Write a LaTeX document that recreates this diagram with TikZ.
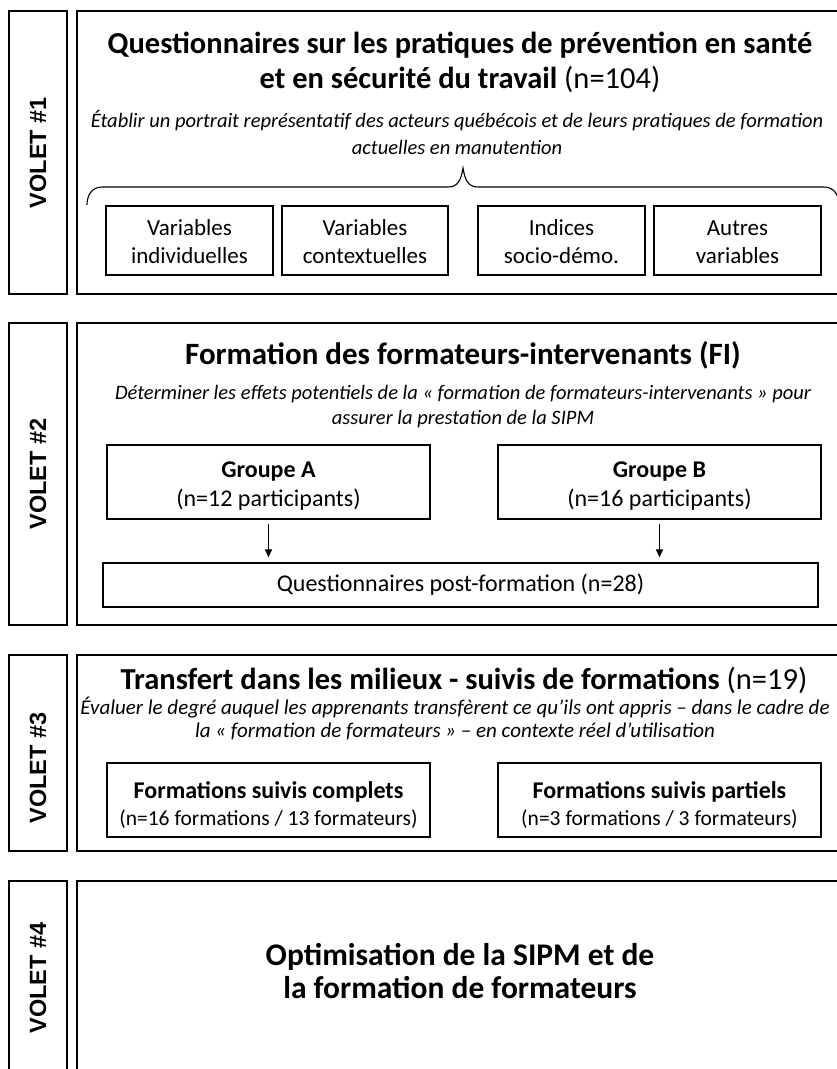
\documentclass[tikz,border=0pt]{standalone}
\usepackage{fontspec}
\setmainfont{Carlito}
\newfontfamily\voletfont{Liberation Sans}
\usetikzlibrary{arrows.meta}
\begin{document}
\begin{tikzpicture}[x=1pt,y=-1pt,
  frame/.style={draw, line width=1.3pt, inner sep=0pt},
  boxn/.style={draw, line width=1.2pt, inner sep=0pt, align=center},
  lab/.style={rotate=90, font=\voletfont\bfseries\fontsize{23.5}{26}\selectfont},
  ttl/.style={align=center, font=\bfseries\fontsize{30.5}{35}\selectfont},
  sub/.style={align=center, font=\itshape\fontsize{20.5}{27}\selectfont},
  vtxt/.style={font=\fontsize{23}{28}\selectfont},
  arr/.style={-{Triangle[length=8pt,width=7pt]}, line width=1.2pt, shorten <=4pt, shorten >=5pt}
]
\useasboundingbox (0,0) rectangle (837,1069);
\clip (0,0) rectangle (837,1069);

% ---------- VOLET 1 ----------
\node[frame, minimum width=58pt, minimum height=283pt] (lab1) at (38,152.5) {};
\node[lab] (l1) at (lab1.center) {VOLET \#1};
\node[frame, minimum width=773pt, minimum height=283pt] (main1) at (463.5,152.5) {};
\node[ttl] (t1) at (460,62) {Questionnaires sur les pratiques de prévention en santé\\et en sécurité du travail \mdseries(n=104)};
\node[sub] (s1) at (457,133) {Établir un portrait représentatif des acteurs québécois et de leurs pratiques de formation\\actuelles en manutention};
\draw[line width=1.1pt] (87,205) .. controls (87,195) and (92,187) .. (102,187) -- (448,187)
  .. controls (458,187) and (461,180) .. (463,168)
  .. controls (465,180) and (468,187) .. (478,187) -- (824,187)
  .. controls (834,187) and (839,195) .. (839,205);
\node[boxn, vtxt, minimum width=167pt, minimum height=69pt] (v1) at (189.5,240.5) {\rule{0pt}{25.6pt}Variables\\individuelles\strut};
\node[boxn, vtxt, minimum width=166pt, minimum height=69pt] (v2) at (365,240.5) {\rule{0pt}{25.6pt}Variables\\contextuelles\strut};
\node[boxn, vtxt, minimum width=167pt, minimum height=69pt] (v3) at (561.5,240.5) {\rule{0pt}{25.6pt}Indices\\socio-démo.\strut};
\node[boxn, vtxt, minimum width=167pt, minimum height=69pt] (v4) at (737.5,240.5) {\rule{0pt}{25.6pt}Autres\\variables\strut};

% ---------- VOLET 2 ----------
\node[frame, minimum width=58pt, minimum height=302pt] (lab2) at (38,474) {};
\node[lab] (l2) at (lab2.center) {VOLET \#2};
\node[frame, minimum width=773pt, minimum height=302pt] (main2) at (463.5,474) {};
\node[ttl, font=\bfseries\fontsize{31}{35}\selectfont] (t2) at (463,355) {Formation des formateurs-intervenants (FI)};
\node[sub, font=\itshape\fontsize{20.5}{25}\selectfont] (s2) at (463,407) {Déterminer les effets potentiels de la « formation de formateurs-intervenants » pour\\assurer la prestation de la SIPM};
\node[boxn, font=\fontsize{24}{29}\selectfont, minimum width=323pt, minimum height=74pt] (gA) at (268.5,482) {\bfseries\rule{0pt}{28.3pt}Groupe A\\(n=12 participants)\strut};
\node[boxn, font=\fontsize{24}{29}\selectfont, minimum width=323pt, minimum height=74pt] (gB) at (659.5,482) {\bfseries\rule{0pt}{28.3pt}Groupe B\\(n=16 participants)\strut};
\node[boxn, font=\fontsize{24}{29}\selectfont, minimum width=715pt, minimum height=44pt] (post) at (460.5,585) {Questionnaires post-formation (n=28)};
\draw[arr] (gA.south) -- (gA.south |- post.north);
\draw[arr] (gB.south) -- (gB.south |- post.north);

% ---------- VOLET 3 ----------
\node[frame, minimum width=58pt, minimum height=196pt] (lab3) at (38,753) {};
\node[lab] (l3) at (38,768) {VOLET \#3};
\node[frame, minimum width=773pt, minimum height=196pt] (main3) at (463.5,753) {};
\node[ttl] (t3) at (464,680) {Transfert dans les milieux - suivis de formations \mdseries(n=19)};
\node[sub, font=\itshape\fontsize{21}{23}\selectfont] (s3) at (455,718.5) {Évaluer le degré auquel les apprenants transfèrent ce qu’ils ont appris – dans le cadre de\\la « formation de formateurs » – en contexte réel d’utilisation};
\node[boxn, font=\fontsize{21.5}{27}\selectfont, minimum width=323pt, minimum height=74pt] (c1) at (268.5,800) {{\bfseries\fontsize{24}{27}\selectfont\rule{0pt}{26pt}Formations suivis complets}\\(n=16 formations / 13 formateurs)};
\node[boxn, font=\fontsize{21.5}{27}\selectfont, minimum width=323pt, minimum height=74pt] (c2) at (659.5,800) {{\bfseries\fontsize{24}{27}\selectfont\rule{0pt}{26pt}Formations suivis partiels}\\(n=3 formations / 3 formateurs)};

% ---------- VOLET 4 ----------
\node[frame, minimum width=58pt, minimum height=200pt] (lab4) at (38,981) {};
\node[lab] (l4) at (38,978) {VOLET \#4};
\node[frame, minimum width=773pt, minimum height=200pt] (main4) at (463.5,981) {};
\node[ttl, font=\bfseries\fontsize{31.5}{33}\selectfont] (t4) at (460,971.5) {Optimisation de la SIPM et de\\la formation de formateurs};
\end{tikzpicture}
\end{document}
